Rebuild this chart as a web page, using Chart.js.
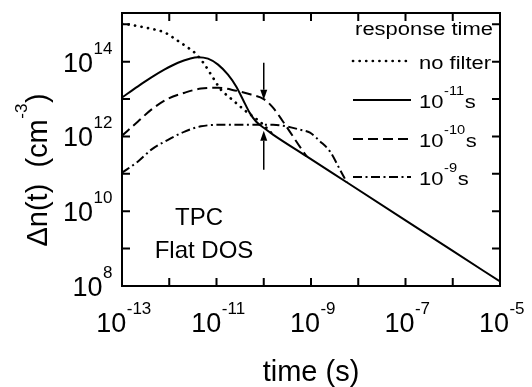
<!DOCTYPE html>
<html><head><meta charset="utf-8">
<script src="https://cdn.jsdelivr.net/npm/chart.js@4/dist/chart.umd.min.js"></script>
<style>html,body{margin:0;padding:0;background:#fff;}#wrap{width:532px;height:387px;}</style>
</head><body><div id="wrap"><canvas id="c" width="532" height="387"></canvas></div>
<script>
// ---- data ----
const legendTitle = 'response time';
const seriesLabels = ['no filter', '10^-11s', '10^-10s', '10^-9s'];

const noFilterT = [1e-13, 2.18e-13, 4.11e-13, 8.02e-13, 1.39e-12, 2.26e-12, 3.68e-12, 5.62e-12, 8.43e-12, 1.24e-11, 1.90e-11, 2.85e-11, 4.21e-11, 6.43e-11, 8.75e-11, 1.57e-10];
const noFilterN = [1.05e15, 8.91e14, 7.59e14, 6.03e14, 3.89e14, 2.57e14, 1.62e14, 8.32e13, 3.72e13, 1.78e13, 1.10e13, 7.08e12, 4.68e12, 3.16e12, 2.34e12, 1.12e12];

const filter11T = [1e-13, 2.18e-13, 4.11e-13, 8.02e-13, 1.53e-12, 2.71e-12, 4.06e-12, 6.61e-12, 1.08e-11, 1.75e-11, 2.59e-11, 3.64e-11, 5.05e-11, 6.86e-11, 1e-10, 1.57e-10, 8.11e-10, 5.70e-9, 1e-7, 1e-6, 1e-5];
const filter11N = [1.10e13, 2.19e13, 3.72e13, 6.17e13, 9.33e13, 1.20e14, 1.32e14, 1.20e14, 8.32e13, 4.47e13, 2.19e13, 9.55e12, 4.27e12, 2.51e12, 1.70e12, 1.12e12, 2.93e11, 5.94e10, 5.70e9, 8.67e8, 1.32e8];

const filter10T = [1e-13, 2.18e-13, 4.11e-13, 9.42e-13, 2.12e-12, 4.70e-12, 1.08e-11, 2.43e-11, 5.37e-11, 1e-10, 1.57e-10, 2.55e-10, 4.16e-10, 5.85e-10, 8.11e-10];
const filter10N = [1.05e12, 2.51e12, 5.13e12, 1.02e13, 1.48e13, 1.91e13, 2.00e13, 1.70e13, 1.32e13, 1.00e13, 5.89e12, 2.51e12, 1.00e12, 5.25e11, 2.93e11];

const filter9T = [1e-13, 2.18e-13, 4.11e-13, 9.42e-13, 2.12e-12, 4.70e-12, 1.08e-11, 2.43e-11, 1.05e-10, 1.57e-10, 3.06e-10, 5.85e-10, 9.53e-10, 1.55e-9, 2.52e-9, 4.11e-9, 5.70e-9];
const filter9N = [1.07e11, 2.14e11, 4.37e11, 8.13e11, 1.35e12, 1.86e12, 2.04e12, 2.04e12, 2.04e12, 2.04e12, 1.86e12, 1.51e12, 1.26e12, 7.41e11, 3.98e11, 1.29e11, 5.94e10];

const xTickMarks = [1e-13, 1e-12, 1e-11, 1e-10, 1e-9, 1e-8, 1e-7, 1e-6, 1e-5];
const xTickValues = [1e-13, 1e-11, 1e-9, 1e-7, 1e-5];
const xTickLabels = ['10^-13', '10^-11', '10^-9', '10^-7', '10^-5'];
const yTickMarks = [1e8, 1e9, 1e10, 1e11, 1e12, 1e13, 1e14, 1e15];
const yTickValues = [1e8, 1e10, 1e12, 1e14];
const yTickLabels = ['10^8', '10^10', '10^12', '10^14'];
const xTitle = 'time (s)';
const yTitle = 'Δn(t)  (cm^-3)';
const noteLines = ['TPC', 'Flat DOS'];
const arrowTime = 1e-10;
const arrowDown = [9.3e13, 9.5e12];
const arrowUp = [1.29e11, 1.41e12];

// ---- drawing ----
const FONT = '"Liberation Sans", Arial, Helvetica, sans-serif';
function pts(T, N) { return T.map((t, i) => ({ x: t, y: N[i] })); }
function parts(t) { const m = t.match(/^(.*?)\^(-?\d+)(.*)$/); return m ? [m[1], m[2], m[3]] : [t, '', '']; }
function drawRich(ctx, text, x, y, size, supSize, raise, align, sx) {
  sx = sx || 1;
  const [a, b, c] = parts(text);
  ctx.font = size + 'px ' + FONT;
  const wa = ctx.measureText(a).width, wc = c ? ctx.measureText(c).width : 0;
  ctx.font = supSize + 'px ' + FONT;
  const wb = b ? ctx.measureText(b).width + 1 : 0;
  const total = (wa + wb + wc) * sx;
  const x0 = align === 'right' ? x - total : align === 'center' ? x - total / 2 : x;
  ctx.save();
  ctx.translate(x0, y); ctx.scale(sx, 1);
  ctx.textAlign = 'left'; ctx.textBaseline = 'alphabetic';
  ctx.font = size + 'px ' + FONT; ctx.fillText(a, 0, 0);
  if (b) { ctx.font = supSize + 'px ' + FONT; ctx.fillText(b, wa + 0.5, -raise); }
  if (c) { ctx.font = size + 'px ' + FONT; ctx.fillText(c, wa + wb, 0); }
  ctx.restore();
}
function arrow(ctx, x, y0, y1) {
  const dir = y1 > y0 ? 1 : -1, hl = 10, hw = 3.5;
  ctx.beginPath(); ctx.moveTo(x, y0); ctx.lineTo(x, y1 - dir * hl); ctx.stroke();
  ctx.beginPath(); ctx.moveTo(x, y1); ctx.lineTo(x - hw, y1 - dir * hl); ctx.lineTo(x + hw, y1 - dir * hl); ctx.closePath(); ctx.fill();
}

const decor = {
  id: 'decor',
  afterDraw(chart) {
    const { ctx, chartArea: a, scales: { x, y } } = chart;
    ctx.save();
    ctx.strokeStyle = '#000'; ctx.fillStyle = '#000';
    ctx.lineWidth = 2;
    ctx.strokeRect(a.left, a.top, a.right - a.left, a.bottom - a.top);
    const TL = 8;
    ctx.beginPath();
    xTickMarks.forEach(v => { const p = x.getPixelForValue(v); ctx.moveTo(p, a.bottom); ctx.lineTo(p, a.bottom - TL); ctx.moveTo(p, a.top); ctx.lineTo(p, a.top + TL); });
    yTickMarks.forEach(v => { const p = y.getPixelForValue(v); ctx.moveTo(a.left, p); ctx.lineTo(a.left + TL, p); ctx.moveTo(a.right, p); ctx.lineTo(a.right - TL, p); });
    ctx.stroke();
    // tick labels
    xTickValues.forEach((v, i) => drawRich(ctx, xTickLabels[i], x.getPixelForValue(v) + 2, a.bottom + 46, 27, 17, 18, 'center'));
    yTickValues.forEach((v, i) => drawRich(ctx, yTickLabels[i], a.left - 9, y.getPixelForValue(v) + 10, 27, 17, 18, 'right'));
    // axis titles
    drawRich(ctx, xTitle, (a.left + a.right) / 2, 381, 29, 17, 20, 'center');
    ctx.save(); ctx.translate(47, 170); ctx.rotate(-Math.PI / 2);
    drawRich(ctx, yTitle, 0, 0, 29, 17, 20, 'center');
    ctx.restore();
    // arrows
    ctx.lineWidth = 1.5;
    const ax = x.getPixelForValue(arrowTime);
    arrow(ctx, ax, y.getPixelForValue(arrowDown[0]), y.getPixelForValue(arrowDown[1]));
    arrow(ctx, ax, y.getPixelForValue(arrowUp[0]), y.getPixelForValue(arrowUp[1]));
    // note text
    drawRich(ctx, noteLines[0], 199, 225, 24, 14, 10, 'center');
    drawRich(ctx, noteLines[1], 204, 258, 24, 14, 10, 'center');
    // legend
    const SX = 1.22;
    drawRich(ctx, legendTitle, a.right - 7, a.top + 22, 18, 12, 13, 'right', SX);
    const rows = [a.top + 48, a.top + 87, a.top + 126, a.top + 164];
    chart.data.datasets.forEach((ds, i) => {
      const ly = rows[i];
      ctx.save();
      ctx.lineWidth = ds.borderWidth; ctx.setLineDash(ds.borderDash || []);
      ctx.lineCap = ds.borderCapStyle || 'butt';
      ctx.beginPath(); ctx.moveTo(a.right - 147, ly); ctx.lineTo(a.right - 89, ly); ctx.stroke();
      ctx.restore();
      drawRich(ctx, ds.label, a.right - 81, ly + 8, 18, 12, 13, 'left', SX);
    });
    ctx.restore();
  }
};

const common = { pointRadius: 0, fill: false, borderColor: '#000', backgroundColor: '#000', borderWidth: 2, cubicInterpolationMode: 'monotone' };
new Chart(document.getElementById('c'), {
  type: 'line',
  data: {
    datasets: [
      Object.assign({ label: seriesLabels[0], data: pts(noFilterT, noFilterN), borderDash: [0.1, 6.5], borderCapStyle: 'round' }, common, { borderWidth: 2.7 }),
      Object.assign({ label: seriesLabels[1], data: pts(filter11T, filter11N), borderDash: [] }, common),
      Object.assign({ label: seriesLabels[2], data: pts(filter10T, filter10N), borderDash: [10, 5] }, common),
      Object.assign({ label: seriesLabels[3], data: pts(filter9T, filter9N), borderDash: [9, 3.5, 2, 3.5] }, common)
    ]
  },
  options: {
    responsive: false, animation: false, devicePixelRatio: 1,
    layout: { padding: { left: 122, right: 32, top: 13, bottom: 101 } },
    plugins: { legend: { display: false }, tooltip: { enabled: false } },
    scales: {
      x: { type: 'logarithmic', min: 1e-13, max: 1e-5, ticks: { display: false }, grid: { display: false }, border: { display: false }, afterFit(s) { s.height = 0; } },
      y: { type: 'logarithmic', min: 1e8, max: 2e15, ticks: { display: false }, grid: { display: false }, border: { display: false }, afterFit(s) { s.width = 0; } }
    }
  },
  plugins: [decor]
});
</script>
</body></html>
